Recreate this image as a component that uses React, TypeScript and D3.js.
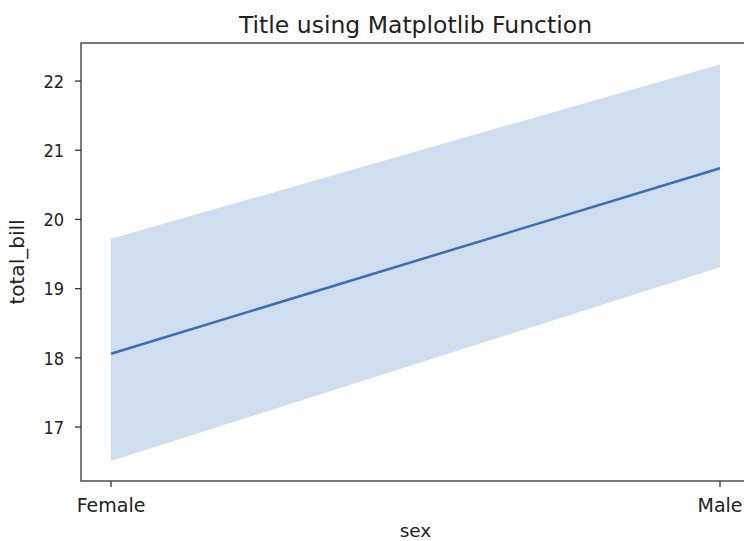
import * as d3 from "d3";

// tips dataset: mean total_bill by sex with 95% CI
const categories = ["Female", "Male"];
const meanBill = [18.06, 20.74];
const ciLow = [16.51, 19.31];
const ciHigh = [19.72, 22.24];
const yTicks = [17, 18, 19, 20, 21, 22];

const W = 744;
const H = 541;
const left = 81;
const right = 750; // axes box runs past the picture edge
const top = 43;
const bottom = 481;

const font = "DejaVu Sans, sans-serif";
const digitFont = "DejaVu Sans Condensed, DejaVu Sans, sans-serif";

export default function App() {
  const x = d3.scalePoint<string>().domain(categories).range([111, 720]);
  const y = d3.scaleLinear().domain([16.22, 22.55]).range([bottom, top]);

  const rows = categories.map((c, i) => ({ c, m: meanBill[i], lo: ciLow[i], hi: ciHigh[i] }));

  const band = d3
    .area<(typeof rows)[number]>()
    .x((d) => x(d.c)!)
    .y0((d) => y(d.lo))
    .y1((d) => y(d.hi));

  const line = d3
    .line<(typeof rows)[number]>()
    .x((d) => x(d.c)!)
    .y((d) => y(d.m));

  return (
    <svg
      width={W}
      height={H}
      style={{ position: "absolute", left: 0, top: 0, background: "#fff" }}
      fontFamily={font}
    >
      <rect width={W} height={H} fill="#fff" />
      <path d={band(rows)!} fill="#cfdeef" />
      <path d={line(rows)!} fill="none" stroke="#3a6db3" strokeWidth={2.5} />

      {/* spines */}
      <rect x={left} y={top} width={right - left} height={bottom - top} fill="none" stroke="#333" strokeWidth={1.3} />

      {yTicks.map((t) => (
        <g key={t} transform={`translate(0,${y(t)})`}>
          <line x1={left - 6} x2={left} stroke="#333" strokeWidth={1.3} />
          <text x={64} dy="0.38em" textAnchor="end" fontSize={18} fontFamily={digitFont} fill="#222">
            {t}
          </text>
        </g>
      ))}

      {categories.map((c) => (
        <g key={c} transform={`translate(${x(c)},${bottom})`}>
          <line y1={0} y2={6} stroke="#333" strokeWidth={1.3} />
          <text y={31} textAnchor="middle" fontSize={19} fill="#222">
            {c}
          </text>
        </g>
      ))}

      <text x={(left + right) / 2} y={33} textAnchor="middle" fontSize={23.5} fill="#222">
        Title using Matplotlib Function
      </text>
      <text x={(left + right) / 2} y={537} textAnchor="middle" fontSize={18.5} fill="#222">
        sex
      </text>
      <text
        transform={`translate(24,${(top + bottom) / 2}) rotate(-90)`}
        textAnchor="middle"
        fontSize={20}
        fill="#222"
      >
        total_bill
      </text>
    </svg>
  );
}
